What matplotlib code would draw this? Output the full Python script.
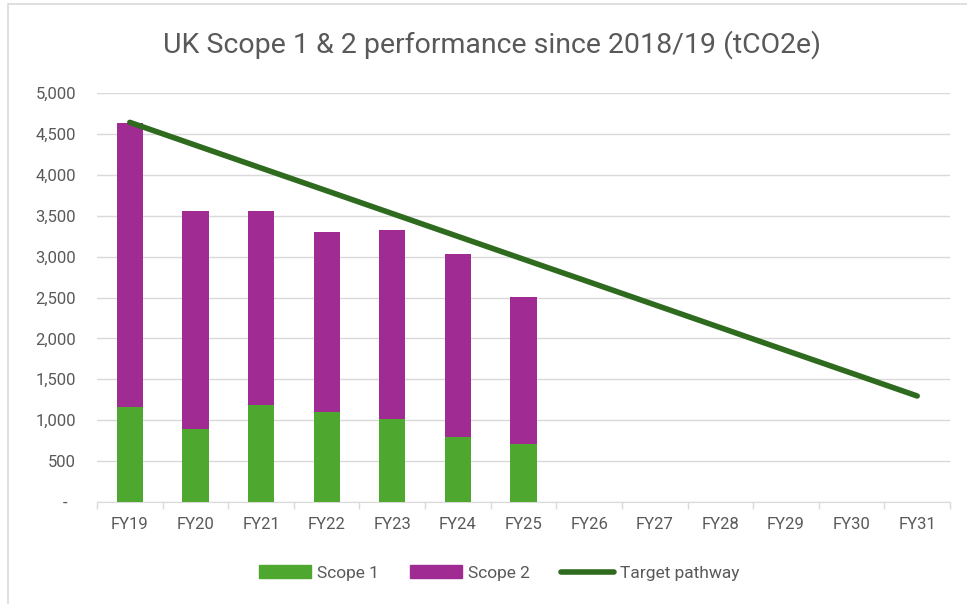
import matplotlib
matplotlib.use("Agg")
import matplotlib.pyplot as plt
from matplotlib.patches import Rectangle
from matplotlib.lines import Line2D
from matplotlib.ticker import FuncFormatter, FixedLocator
import numpy as np

years = ["FY19", "FY20", "FY21", "FY22", "FY23", "FY24", "FY25",
         "FY26", "FY27", "FY28", "FY29", "FY30", "FY31"]
scope1 = [1158, 889, 1182, 1104, 1019, 799, 713]
scope2 = [3472, 2672, 2371, 2201, 2306, 2229, 1797]
target = [4641, 4362, 4083, 3805, 3526, 3247, 2968,
          2690, 2411, 2132, 1853, 1575, 1296]

GREEN = "#4EA72E"
PURPLE = "#A02B93"
LINE = "#2E6B1E"
TXT = "#595959"
GRID = "#D9D9D9"

plt.rcParams["font.family"] = ["Roboto", "DejaVu Sans"]

fig = plt.figure(figsize=(9.67, 6.04), dpi=100)
# chart frame (only left and top edges fall inside the picture)
fig.patches.append(Rectangle((8 / 967, -0.1), 1.1, 1.1 - 4 / 604,
                             transform=fig.transFigure, fill=False,
                             edgecolor=GRID, linewidth=1.2))
ax = fig.add_axes([97 / 967, 102 / 604, 853 / 967, 409 / 604])

x = np.arange(len(years))
n = len(scope1)
ax.bar(x[:n], scope1, width=0.4, color=GREEN, zorder=2, label="Scope 1")
ax.bar(x[:n], scope2, width=0.4, bottom=scope1, color=PURPLE, zorder=2,
       label="Scope 2")
ax.plot(x, target, color=LINE, linewidth=4, solid_capstyle="round", zorder=3,
        label="Target pathway")

ax.set_xlim(-0.5, len(years) - 0.5)
ax.set_ylim(0, 5000)
ax.set_yticks(range(0, 5001, 500))
ax.yaxis.set_major_formatter(FuncFormatter(lambda v, p: "-  " if v == 0 else f"{int(v):,}"))
ax.grid(axis="y", color=GRID, linewidth=1, zorder=0)

ax.set_xticks(x)
ax.set_xticklabels(years)
ax.xaxis.set_minor_locator(FixedLocator(np.arange(-0.5, len(years), 1)))
ax.tick_params(axis="x", which="major", length=0, pad=11, labelsize=12, labelcolor=TXT)
ax.tick_params(axis="x", which="minor", length=5, color=GRID, width=1)
ax.tick_params(axis="y", length=0, pad=15, labelsize=12, labelcolor=TXT)

for s in ["top", "right", "left"]:
    ax.spines[s].set_visible(False)
ax.spines["bottom"].set_color(GRID)
ax.spines["bottom"].set_zorder(1)

fig.text(492 / 967, 1 - 45 / 604, "UK Scope 1 & 2 performance since 2018/19 (tCO2e)",
         ha="center", va="center", fontsize=20.5, color=TXT)

handles = [Rectangle((0, 0), 1, 1, color=GREEN),
           Rectangle((0, 0), 1, 1, color=PURPLE),
           Line2D([0], [0], color=LINE, linewidth=4, solid_capstyle="round")]
fig.legend(handles, ["Scope 1", "Scope 2", "Target pathway"],
           loc="center", bbox_to_anchor=(499 / 967, 1 - 573 / 604), ncol=3,
           frameon=False, fontsize=12.5, labelcolor=TXT, handlelength=3.0,
           handleheight=0.75, handletextpad=0.35, columnspacing=1.8)

fig.savefig("out.png", dpi=100)
